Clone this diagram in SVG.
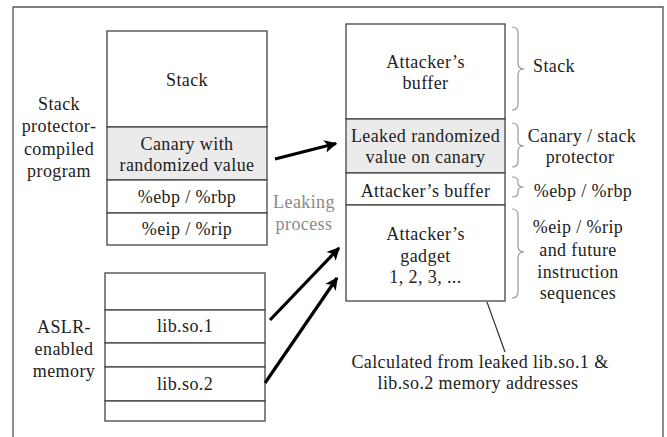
<svg xmlns="http://www.w3.org/2000/svg" width="667" height="437" viewBox="0 0 667 437">
<defs>
<style>
text{font-family:"Liberation Serif","Times New Roman",serif;font-size:18px;letter-spacing:0.4px;fill:#222;text-anchor:middle}
.box{fill:#fff;stroke:#444;stroke-width:1.3}
.gray{fill:#ebebeb}
.brace{fill:none;stroke:#999;stroke-width:1.2}
.arrow{stroke:#000;stroke-width:3.2;fill:none}
.lp{fill:#8a8a8a}
.l{text-anchor:start}
</style>
<marker id="ah" markerWidth="5" markerHeight="5" refX="3.6" refY="2" orient="auto" markerUnits="strokeWidth" overflow="visible">
<path d="M0,0 L4,2 L0,4 L1,2 Z" fill="#000"/>
</marker>
</defs>
<rect width="667" height="437" fill="#fff"/>
<path d="M13,440 V7 H663 V440" fill="none" stroke="#555" stroke-width="1.3"/>

<g id="stack-left">
<rect class="box" x="107" y="31" width="160" height="96"/>
<rect class="box gray" x="107" y="127" width="160" height="53"/>
<rect class="box" x="107" y="180" width="160" height="33"/>
<rect class="box" x="107" y="213" width="160" height="32"/>
<text x="187" y="86">Stack</text>
<text x="187" y="150">Canary with</text>
<text x="187" y="171">randomized value</text>
<text x="187" y="203">%ebp / %rbp</text>
<text x="187" y="235">%eip / %rip</text>
</g>

<g id="label-program">
<text x="59" y="110">Stack</text>
<text x="59" y="132">protector-</text>
<text x="59" y="155">compiled</text>
<text x="59" y="177">program</text>
</g>

<g id="memory">
<rect class="box" x="105" y="273" width="160" height="37"/>
<rect class="box" x="105" y="310" width="160" height="33"/>
<rect class="box" x="105" y="343" width="160" height="24"/>
<rect class="box" x="105" y="367" width="160" height="34"/>
<rect class="box" x="105" y="401" width="160" height="20"/>
<text x="185" y="332">lib.so.1</text>
<text x="185" y="390">lib.so.2</text>
</g>

<g id="label-aslr">
<text x="64" y="333">ASLR-</text>
<text x="64" y="355">enabled</text>
<text x="64" y="377">memory</text>
</g>

<g id="stack-right">
<rect class="box" x="346" y="24" width="159" height="95"/>
<rect class="box gray" x="346" y="119" width="159" height="54"/>
<rect class="box" x="346" y="173" width="159" height="32"/>
<rect class="box" x="346" y="205" width="159" height="96"/>
<text x="425.5" y="68">Attacker’s</text>
<text x="425.5" y="89">buffer</text>
<text x="425.5" y="142">Leaked randomized</text>
<text x="425.5" y="163">value on canary</text>
<text x="425.5" y="197">Attacker’s buffer</text>
<text x="425.5" y="240">Attacker’s</text>
<text x="425.5" y="262">gadget</text>
<text x="425.5" y="283">1, 2, 3, ...</text>
</g>

<g id="braces">
<path class="brace" d="M512,27 Q518,27 518,33 V63 Q518,69 524,69 Q518,69 518,75 V104 Q518,110 512,110"/>
<path class="brace" d="M512,123 Q518,123 518,129 V141 Q518,146 524,146 Q518,146 518,151 V161 Q518,167 512,167"/>
<path class="brace" d="M512,177 Q518,177 518,181 V183 Q518,187 524,187 Q518,187 518,191 V193 Q518,197 512,197"/>
<path class="brace" d="M512,209 Q518,209 518,215 V246 Q518,252 524,252 Q518,252 518,258 V292 Q518,298 512,298"/>
</g>

<g id="brace-labels">
<text class="l" x="533" y="72">Stack</text>
<text x="582" y="142">Canary / stack</text>
<text x="580" y="163">protector</text>
<text x="583" y="197">%ebp / %rbp</text>
<text x="578" y="233">%eip / %rip</text>
<text x="578" y="256">and future</text>
<text x="578" y="278">instruction</text>
<text x="578" y="299">sequences</text>
</g>

<g id="leaking-label">
<text class="lp" x="304" y="208">Leaking</text>
<text class="lp" x="304" y="230">process</text>
</g>

<g id="note">
<text x="480" y="368">Calculated from leaked lib.so.1 &amp;</text>
<text x="478" y="389">lib.so.2 memory addresses</text>
</g>

<g id="connectors">
<line class="arrow" x1="275" y1="159" x2="336" y2="143.5" marker-end="url(#ah)"/>
<line class="arrow" x1="270" y1="320" x2="339" y2="248" marker-end="url(#ah)"/>
<line class="arrow" x1="265" y1="383" x2="337" y2="278" marker-end="url(#ah)"/>
<line x1="487" y1="302" x2="505" y2="352" stroke="#333" stroke-width="1.2"/>
</g>
</svg>
